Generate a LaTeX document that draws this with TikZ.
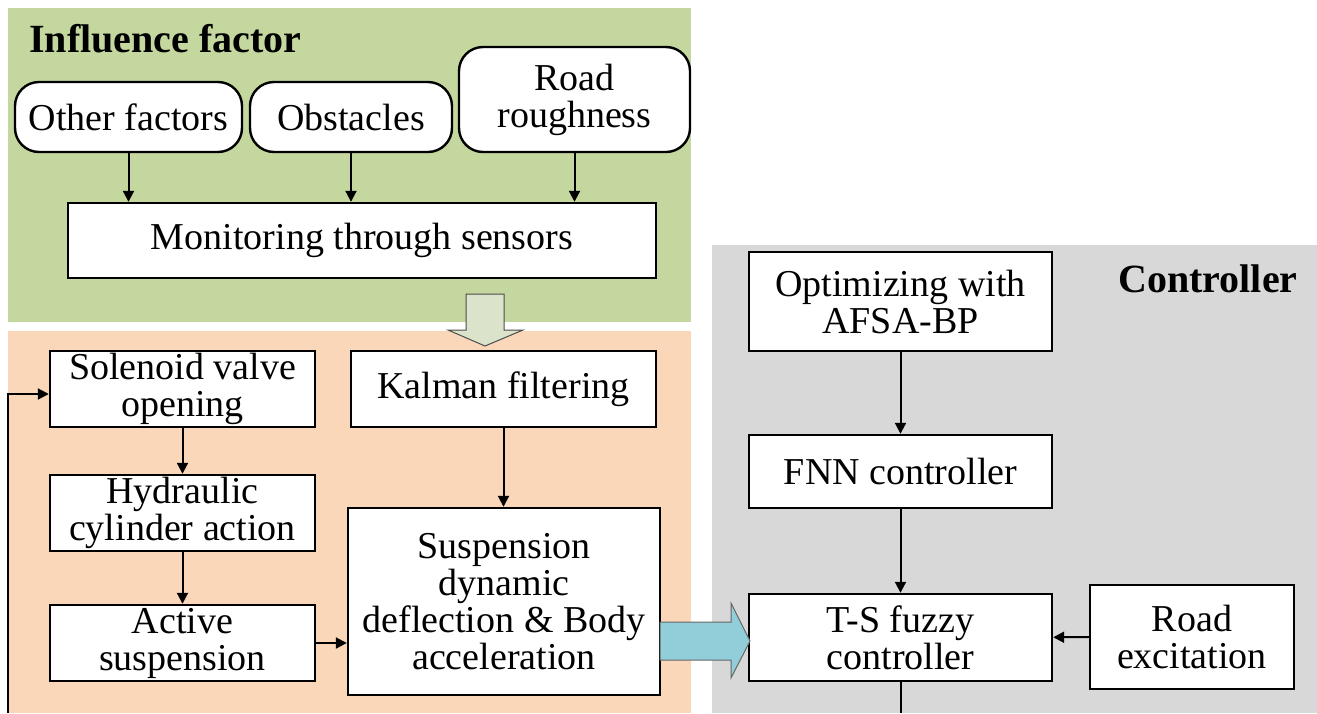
\documentclass[tikz,border=0pt]{standalone}
\usepackage{fontspec}
\setmainfont{Liberation Serif}
\usetikzlibrary{arrows.meta}
\definecolor{inflgreen}{HTML}{C4D79F}
\definecolor{suspeach}{HTML}{FAD7B8}
\definecolor{ctrlgray}{HTML}{D8D8D8}
\definecolor{arrgreen}{HTML}{DCE3CB}
\definecolor{arrblue}{HTML}{92CDDA}

\begin{document}
\begin{tikzpicture}[x=0.5pt, y=-0.5pt,
	box/.style = {draw, fill=white, line width=1.2pt, align=center, inner sep=0pt, font=\fontsize{19}{18.5}\selectfont},
	rbox/.style = {box, rounded corners=12pt},
	arr/.style = {-{Triangle[length=5.5pt,width=5.5pt]}, line width=1pt},
	title/.style = {font=\fontsize{20}{20}\selectfont\bfseries, inner sep=0pt}]
	\useasboundingbox (0,0) rectangle (1317,713);
	% Taustat
	\fill[inflgreen] (8,8) rectangle (691,322);
	\fill[suspeach] (8,331) rectangle (691,713);
	\fill[ctrlgray] (712,245) rectangle (1317,713);
	\node[title, anchor=base west] (inftitle) at (29,52) {Influence factor};
	\node[title, anchor=base east] (ctrltitle) at (1298,292) {Controller};
	% Tekijat
	\node[rbox, minimum width=113.5pt, minimum height=35pt] (other) at (128.5,117) {Other factors};
	\node[rbox, minimum width=101pt, minimum height=35pt] (obst) at (351,117) {Obstacles};
	\node[rbox, minimum width=115.5pt, minimum height=52.5pt] (rough) at (574.5,99.5) {Road\\roughness};
	\node[box, minimum width=294pt, minimum height=37.5pt] (sensor) at (362,240.5) {Monitoring through sensors};
	\draw[arr] (other.south) -- (other.south |- sensor.north);
	\draw[arr] (obst.south) -- (obst.south |- sensor.north);
	\draw[arr] (rough.south) -- (rough.south |- sensor.north);
	% Jousitus
	\node[box, minimum width=132.5pt, minimum height=38pt] (valve) at (182.5,389) {Solenoid valve\\opening};
	\node[box, minimum width=152.5pt, minimum height=38pt] (kalman) at (503.5,389) {Kalman filtering};
	\node[box, minimum width=132.5pt, minimum height=38pt] (cyl) at (182.5,513) {Hydraulic\\cylinder action};
	\node[box, minimum width=132.5pt, minimum height=38pt] (active) at (182.5,643) {Active\\suspension};
	\node[box, minimum width=156pt, minimum height=93.5pt] (deflect) at (504,601.5) {Suspension\\dynamic\\deflection \& Body\\acceleration};
	\draw[arr] (valve) -- (cyl);
	\draw[arr] (cyl) -- (active);
	\draw[arr] (kalman) -- (kalman |- deflect.north);
	\draw[arr] (active.east) -- (active.east -| deflect.west);
	\coordinate (loop) at (8,713);
	\draw[arr] (loop) |- ([yshift=-2.5pt]valve.west);
	% Saadin
	\node[box, minimum width=151.5pt, minimum height=49.5pt] (afsa) at (900.5,301.5) {Optimizing with\\AFSA-BP};
	\node[box, minimum width=151.5pt, minimum height=36.5pt] (fnn) at (900.5,471.5) {FNN controller};
	\node[box, minimum width=151.5pt, minimum height=43.5pt] (tsfuzzy) at (900.5,637.5) {T-S fuzzy\\controller};
	\node[box, minimum width=102pt, minimum height=52pt] (excite) at (1192,637) {Road\\excitation};
	\draw[arr] (afsa) -- (fnn);
	\draw[arr] (fnn) -- (tsfuzzy);
	\draw[arr] (excite) -- (tsfuzzy);
	\coordinate (out) at (900.5,713);
	\draw[line width=1pt] (tsfuzzy) -- (out);
	% Isot nuolet
	\draw[fill=arrgreen, draw=black!70, line width=0.5pt] (466,294) -- (504,294) -- (504,330) -- (523,330) -- (485,346) -- (448,330) -- (466,330) -- cycle;
	\draw[fill=arrblue, draw=black!60, line width=0.5pt] (660,622) -- (731,622) -- (731,603) -- (750,641) -- (731,678) -- (731,660) -- (660,660) -- cycle;
\end{tikzpicture}
\end{document}
